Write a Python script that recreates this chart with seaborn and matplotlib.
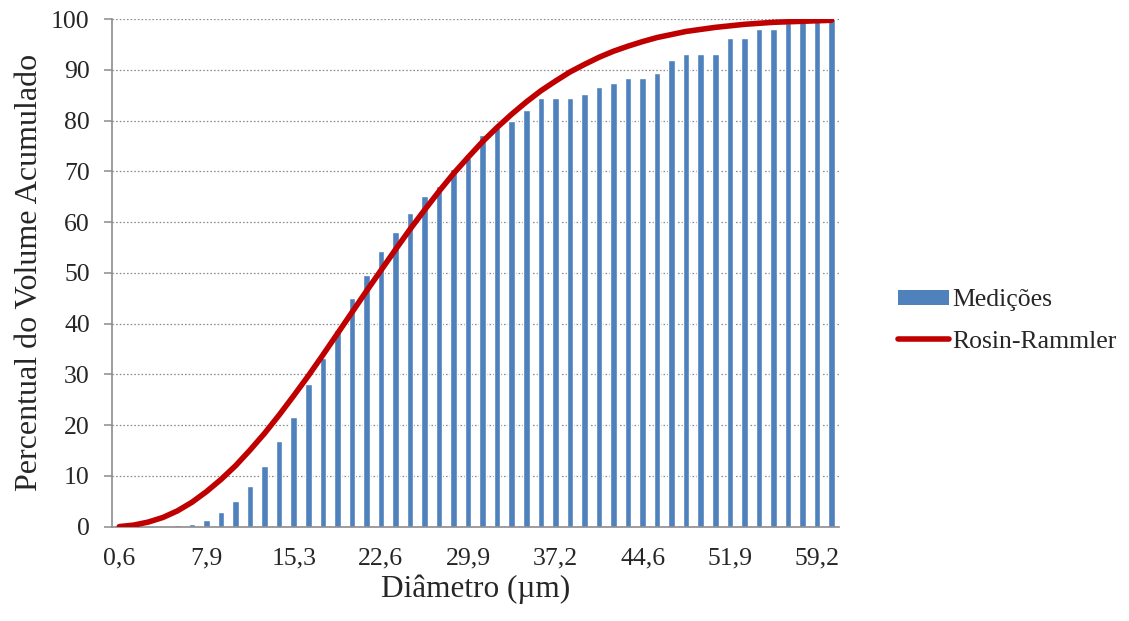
import numpy as np
import pandas as pd
import seaborn as sns
import matplotlib
matplotlib.use("Agg")
import matplotlib.pyplot as plt
from matplotlib.patches import Patch
from matplotlib.lines import Line2D

sns.set_style("white")
plt.rcParams['font.family'] = ['Liberation Serif', 'DejaVu Serif']

# diametro de cada classe (um)
diametro = [0.6, 1.8, 3.0, 4.3, 5.5, 6.7, 7.9, 9.1, 10.4, 11.6,
            12.8, 14.0, 15.3, 16.5, 17.7, 18.9, 20.1, 21.4, 22.6, 23.8,
            25.0, 26.2, 27.5, 28.7, 29.9, 31.1, 32.3, 33.6, 34.8, 36.0,
            37.2, 38.4, 39.7, 40.9, 42.1, 43.3, 44.6, 45.8, 47.0, 48.2,
            49.4, 50.7, 51.9, 53.1, 54.3, 55.5, 56.8, 58.0, 59.2, 60.4]

# percentual acumulado medido
medicoes = [0.0, 0.0, 0.0, 0.0, 0.3, 0.6, 1.4, 2.9, 5.1, 8.1,
            12.0, 16.9, 21.6, 28.2, 33.3, 38.7, 45.0, 49.5, 54.3, 58.1,
            61.9, 65.2, 67.1, 70.4, 72.7, 77.1, 78.6, 79.9, 82.2, 84.4,
            84.4, 84.4, 85.2, 86.6, 87.5, 88.4, 88.4, 89.5, 91.9, 93.1,
            93.1, 93.1, 96.3, 96.3, 98.1, 98.1, 99.2, 99.4, 99.6, 100.0]

# curva Rosin-Rammler
rosin = [0.0, 0.3, 0.9, 1.8, 3.1, 4.8, 6.9, 9.3, 12.0, 15.1,
         18.4, 22.0, 25.8, 29.7, 33.8, 38.0, 42.2, 46.4, 50.5, 54.6,
         58.6, 62.4, 66.1, 69.6, 72.8, 75.9, 78.7, 81.3, 83.7, 85.9,
         87.8, 89.6, 91.1, 92.5, 93.7, 94.7, 95.6, 96.4, 97.0, 97.6,
         98.0, 98.4, 98.7, 99.0, 99.2, 99.4, 99.5, 99.6, 99.7, 99.8]

df = pd.DataFrame({'diam': [f"{d:.1f}".replace('.', ',') for d in diametro],
                   'med': medicoes, 'rr': rosin})

fig = plt.figure(figsize=(11.29, 6.21), dpi=100)
ax = fig.add_axes([0.0992, 0.152, 0.6438, 0.817])

sns.barplot(data=df, x='diam', y='med', color='#4F81BD', saturation=1,
            width=0.45, ax=ax, zorder=2)
ax.plot(np.arange(len(rosin)), df['rr'], color='#C00000', lw=4.0,
        solid_capstyle='round', zorder=3)

ax.set_xlim(-0.5, len(diametro) - 0.5)
ax.set_ylim(0, 100)
ax.set_yticks(range(0, 101, 10))
pos = list(range(0, len(diametro), 6))
ax.set_xticks(pos)
ax.set_xticklabels([df['diam'][i] for i in pos])

ax.yaxis.grid(True, color='#8C8C8C', lw=0.9, dashes=(1.3, 1.6))
ax.set_axisbelow(True)
for s in ['top', 'right']:
    ax.spines[s].set_visible(False)
for s in ['left', 'bottom']:
    ax.spines[s].set_color('#8C8C8C')
    ax.spines[s].set_linewidth(1.2)

ax.tick_params(axis='x', length=0, pad=15, labelsize=18.5)
ax.tick_params(axis='y', length=6, width=1.1, color='#8C8C8C', pad=10,
               labelsize=18.5, left=True)

ax.set_xlabel('Diâmetro (µm)', fontsize=22.5, labelpad=4)
ax.set_ylabel('Percentual do Volume Acumulado', fontsize=23, labelpad=5)

handles = [Patch(facecolor='#4F81BD', edgecolor='none'),
           Line2D([0], [0], color='#C00000', lw=4.0, solid_capstyle='round')]
fig.legend(handles, ['Medições', 'Rosin-Rammler'], loc='center left',
           bbox_to_anchor=(0.775, 0.483), frameon=False, fontsize=18.5,
           handlelength=2.0, handleheight=0.5, handletextpad=0.1,
           labelspacing=0.75)

fig.savefig('out.png', dpi=100)
